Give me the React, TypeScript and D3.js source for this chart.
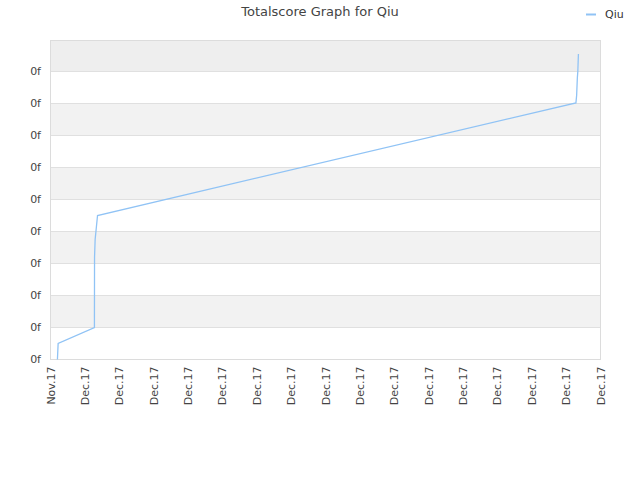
import React from "react";
import * as d3 from "d3";

const title = "Totalscore Graph for Qiu";
const seriesName = "Qiu";
// x tick dates and labels
const tickDates = [
  "2017-11-30", "2017-12-01", "2017-12-02", "2017-12-03", "2017-12-04", "2017-12-05",
  "2017-12-06", "2017-12-07", "2017-12-08", "2017-12-09", "2017-12-10", "2017-12-11",
  "2017-12-12", "2017-12-13", "2017-12-14", "2017-12-15", "2017-12-16",
];
const tickLabels = [
  "Nov.17", "Dec.17", "Dec.17", "Dec.17", "Dec.17", "Dec.17", "Dec.17", "Dec.17", "Dec.17",
  "Dec.17", "Dec.17", "Dec.17", "Dec.17", "Dec.17", "Dec.17", "Dec.17", "Dec.17",
];
const yTicks = [0, 1, 2, 3, 4, 5, 6, 7, 8, 9];
const yTickLabels = ["0f", "0f", "0f", "0f", "0f", "0f", "0f", "0f", "0f", "0f"];
// series
const pointTimes = [
  "2017-11-30T04:50", "2017-11-30T05:20", "2017-12-01T06:40", "2017-12-01T06:45",
  "2017-12-01T07:10", "2017-12-01T08:50", "2017-12-15T06:50", "2017-12-15T07:20",
  "2017-12-15T07:50", "2017-12-15T08:10", "2017-12-15T08:35",
];
const pointValues = [0, 0.5, 1.0, 3.2, 3.75, 4.5, 8.02, 8.25, 8.8, 9.0, 9.55];

export default function App() {
  const W = 640, H = 480;
  const left = 50.5, right = 600.5, top = 40.5, bottom = 359.5;
  const x = d3.scaleTime()
    .domain([new Date(tickDates[0] + "T00:00"), new Date(tickDates[tickDates.length - 1] + "T00:00")])
    .range([left, right]);
  const y = d3.scaleLinear().domain([0, 10]).range([bottom, bottom - 320]);
  const data = pointTimes.map((t, i) => ({ t: new Date(t), v: pointValues[i] }));
  const line = d3.line<{ t: Date; v: number }>().x(d => x(d.t)).y(d => y(d.v));
  const font = "DejaVu Sans, sans-serif";
  const bands = [];
  for (let i = 0; i < 10; i++) {
    const y0 = y(i + 1), y1 = y(i);
    let fill = i % 2 === 1 ? "#f2f2f2" : "#ffffff";
    if (i === 9) fill = "#eeeeee";
    bands.push(<rect key={i} x={left} y={Math.max(top, y0)} width={right - left} height={y1 - Math.max(top, y0)} fill={fill} />);
  }
  return (
    <svg width={W} height={H} style={{ position: "absolute", left: 0, top: 0 }} fontFamily={font}>
      <rect width={W} height={H} fill="#fff" />
      {bands}
      {yTicks.map((t, i) => (
        <g key={i}>
          <line x1={left} x2={right} y1={y(t)} y2={y(t)} stroke="#e0e0e0" />
          <text x={41} y={y(t)} dy="0.35em" textAnchor="end" fontSize={11} fill="#444">{yTickLabels[i]}</text>
        </g>
      ))}
      <rect x={left} y={top} width={right - left} height={bottom - top} fill="none" stroke="#dcdcdc" />
      {tickDates.map((d, i) => {
        const px = x(new Date(d + "T00:00"));
        return (
          <text key={i} transform={`translate(${px + 4},${bottom + 7}) rotate(-90)`} textAnchor="end" fontSize={11} fill="#444">{tickLabels[i]}</text>
        );
      })}
      <path d={line(data) || ""} fill="none" stroke="#90c3f5" strokeWidth={1.3} />
      <text x={320} y={16} textAnchor="middle" fontSize={13} fill="#444">{title}</text>
      <line x1={586} x2={596} y1={14.5} y2={14.5} stroke="#90c3f5" strokeWidth={2} />
      <text x={605} y={18} fontSize={11} fill="#333">{seriesName}</text>
    </svg>
  );
}
